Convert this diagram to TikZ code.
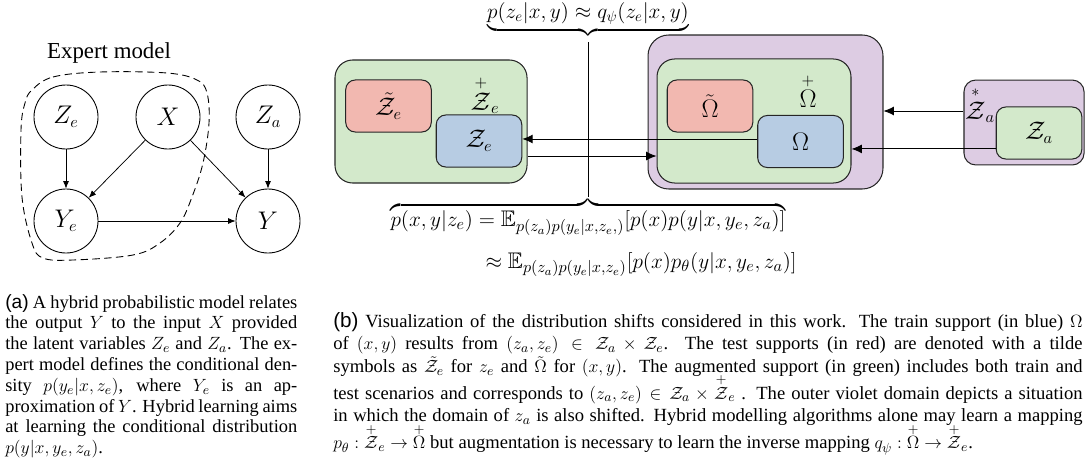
\documentclass[tikz,border=0pt]{standalone}
\usepackage{amsmath,amssymb}
\usepackage{fontspec}
\setmainfont{Liberation Serif}
\newfontfamily\labelfont{Liberation Sans}
\usetikzlibrary{arrows.meta}
\definecolor{dgreen}{HTML}{D3E9CB}
\definecolor{dred}{HTML}{F2B8B0}
\definecolor{dblue}{HTML}{B7CCE3}
\definecolor{dviolet}{HTML}{DDCCE3}
\begin{document}
\begin{tikzpicture}[x=0.678pt,y=-0.678pt,
  gnode/.style={circle, draw, line width=0.6pt, minimum size=43.4pt, inner sep=0pt, font=\fontsize{16}{18}\selectfont},
  garr/.style={-{Latex[length=5pt,width=4pt]}, line width=0.5pt},
  dom/.style={draw=black!85, line width=0.7pt, inner sep=0pt, font=\fontsize{16}{18}\selectfont},
  bigdom/.style={dom, rounded corners=12pt},
  smalldom/.style={dom, rounded corners=6.5pt, minimum width=58pt, minimum height=35.3pt},
  barr/.style={-{Latex[length=7pt,width=6pt]}, line width=0.6pt},
  mathf/.style={inner sep=0pt, font=\fontsize{16}{18}\selectfont},
  capt/.style={inner sep=0pt, anchor=north west, align=justify}
]
\useasboundingbox (0,0) rectangle (1085,467);

% ---------- (a) graphical model ----------
\node[font=\fontsize{15.5}{18}\selectfont] (title) at (109,53) {Expert model};
\draw[dashed, line width=0.6pt, dash pattern=on 5pt off 3pt] plot[smooth cycle, tension=0.6] coordinates {
 (32,90) (53,77) (100,72) (167,73) (197,80) (207,93) (209,123) (203,163) (192,197)
 (180,223) (160,243) (133,255) (73,260) (43,258) (32,243) (22,197) (21,130) (25,103)};
\node[gnode] (Ze) at (66,117) {$Z_e$};
\node[gnode] (X) at (168,117) {$X$};
\node[gnode] (Za) at (268,117) {$Z_a$};
\node[gnode] (Ye) at (66,221) {$Y_e$};
\node[gnode] (Y) at (268,221) {$Y$};
\draw[garr] (Ze) -- (Ye);
\draw[garr] (X) -- (Ye);
\draw[garr] (X) -- (Y);
\draw[garr] (Za) -- (Y);
\draw[garr] (Ye) -- (Y);

% ---------- (b) domains ----------
\node[bigdom, fill=dgreen, minimum width=130.2pt, minimum height=83.4pt] (LG) at (431,121.5) {};
\node[smalldom, fill=dred] (RZ) at (388.5,106) {$\tilde{\mathcal{Z}}_e$};
\node[smalldom, fill=dblue] (BZ) at (479,141) {$\mathcal{Z}_e$};
\node[mathf] (LZp) at (485,95) {$\overset{+}{\mathcal{Z}}_e$};

\node[bigdom, fill=dviolet, rounded corners=14pt, minimum width=159.3pt, minimum height=104.4pt] (BP) at (765.5,112) {};
\node[bigdom, fill=dgreen, minimum width=131.5pt, minimum height=84.1pt] (IG) at (754,121) {};
\node[smalldom, fill=dred] (RO) at (710,106) {$\tilde{\Omega}$};
\node[smalldom, fill=dblue] (BO) at (800.5,141.5) {$\Omega$};
\node[mathf] (LOp) at (808,91) {$\overset{+}{\Omega}$};

\node[dom, fill=dviolet, rounded corners=8pt, minimum width=81.4pt, minimum height=57.6pt] (SP) at (1024,122.5) {};
\node[smalldom, fill=dgreen] (ZA) at (1039,133) {$\mathcal{Z}_a$};
\node[mathf] (LZs) at (980,105) {$\overset{*}{\mathcal{Z}}_a$};

% arrows
\draw[barr] ([yshift=7.8pt]SP.west) -- ([yshift=7.8pt]SP.west -| BP.east);
\draw[barr] ([yshift=-10.8pt]ZA.west) -- ([yshift=-10.8pt]ZA.west -| IG.east);
\draw[barr] ([yshift=1.7pt]BO.west) -- ([yshift=1.7pt]BO.west -| BZ.east);
\draw[barr] ([yshift=-23.4pt]LG.east) -- ([yshift=-23.4pt]LG.east -| IG.west);

% formulas and vertical line
\node[mathf, font=\fontsize{14.3}{16}\selectfont, anchor=south] (topf) at (588,36) {$\underbrace{p(z_e|x,y)\approx q_\psi(z_e|x,y)}$};
\node[mathf, font=\fontsize{15.3}{17}\selectfont, anchor=north] (botf) at (588,199) {$\overbrace{p(x,y|z_e)=\mathbb{E}_{p(z_a)p(y_e|x,z_e,)}[p(x)p(y|x,y_e,z_a)]}$};
\node[mathf, font=\fontsize{15.3}{17}\selectfont, anchor=base east] (botf2) at (797,268) {$\approx\mathbb{E}_{p(z_a)p(y_e|x,z_e)}[p(x)p_\theta(y|x,y_e,z_a)]$};
\coordinate (vt) at (588,42);
\coordinate (vb) at (588,197);
\draw[line width=0.6pt] (vt) -- (vb);

% ---------- captions ----------
\node[capt, text width=198pt, font=\fontsize{12.5}{14.1}\selectfont] (capa) at (5,294) {%
{\labelfont\fontsize{13}{14}\selectfont (a)} A hybrid probabilistic model relates\linebreak
the output $Y$ to the input $X$ provided\linebreak
the latent variables $Z_e$ and $Z_a$. The ex-\linebreak
pert model defines the conditional den-\linebreak
sity $p(y_e|x,z_e)$, where $Y_e$ is an ap-\linebreak
proximation of $Y$. Hybrid learning aims\linebreak
at learning the conditional distribution\linebreak
$p(y|x,y_e,z_a)$.};

\node[capt, text width=508pt, font=\fontsize{12.6}{15.4}\selectfont] (capb) at (333,312) {%
\hyphenpenalty=10000
{\labelfont\fontsize{14}{14}\selectfont (b)} Visualization of the distribution shifts considered in this work. The train support (in blue) $\Omega$\linebreak
of $(x,y)$ results from $(z_a,z_e)\in\mathcal{Z}_a\times\mathcal{Z}_e$. The test supports (in red) are denoted with a tilde\linebreak
symbols as $\tilde{\mathcal{Z}}_e$ for $z_e$ and $\tilde\Omega$ for $(x,y)$. The augmented support (in green) includes both train and\vadjust{\vskip 2.5pt}\linebreak
test scenarios and corresponds to $(z_a,z_e)\in\mathcal{Z}_a\times\smash[t]{\overset{+}{\mathcal{Z}}}_e$ . The outer violet domain depicts a situation\linebreak
in which the domain of $z_a$ is also shifted. Hybrid modelling algorithms alone may learn a mapping\vadjust{\vskip 3pt}\linebreak
$p_\theta:\smash[t]{\overset{+}{\mathcal{Z}}}_e\rightarrow\smash[t]{\overset{+}{\Omega}}$ but augmentation is necessary to learn the inverse mapping $q_\psi:\smash[t]{\overset{+}{\Omega}}\rightarrow\smash[t]{\overset{+}{\mathcal{Z}}}_e$.};
\end{tikzpicture}
\end{document}
